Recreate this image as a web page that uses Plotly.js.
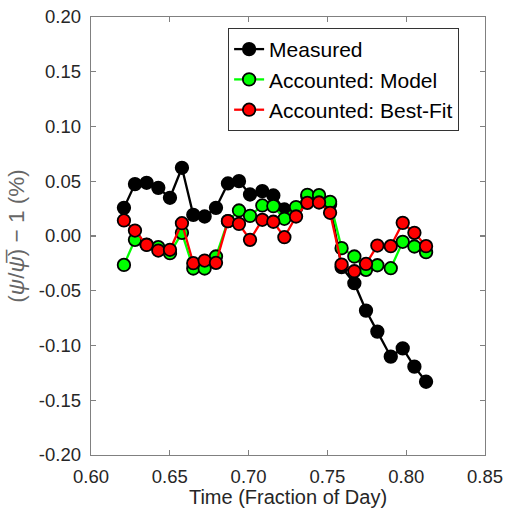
<!DOCTYPE html>
<html>
<head>
<meta charset="utf-8">
<script src="https://cdn.plot.ly/plotly-3.0.1.min.js"></script>
<style>html,body{margin:0;padding:0;background:#fff;}#chart{width:509px;height:517px;}</style>
</head>
<body>
<div id="chart"></div>
<script>
const time = [0.6209,0.6279,0.6353,0.6427,0.6501,0.6577,0.6649,0.6721,0.6793,0.6869,0.6939,0.7009,0.7087,0.7157,0.7227,0.7301,0.7373,0.7447,0.7517,0.7590,0.7671,0.7745,0.7817,0.7902,0.7978,0.8052,0.8126];
const measured = [0.0257,0.0474,0.0486,0.0440,0.0349,0.0623,0.0193,0.0178,0.0257,0.0480,0.0501,0.0379,0.0410,0.0370,0.0242,0.0255,0.0360,0.0360,0.0290,-0.0284,-0.0431,-0.0681,-0.0873,-0.1102,-0.1026,-0.1193,-0.1331];
const model = [-0.0264,-0.0035,-0.0078,-0.0102,-0.0157,0.0029,-0.0297,-0.0297,-0.0187,0.0136,0.0233,0.0184,0.0279,0.0273,0.0157,0.0264,0.0376,0.0373,0.0312,-0.0111,-0.0187,-0.0309,-0.0267,-0.0294,-0.0053,-0.0096,-0.0148];
const bestFit = [0.0142,0.0050,-0.0081,-0.0133,-0.0126,0.0117,-0.0248,-0.0224,-0.0245,0.0136,0.0111,-0.0035,0.0148,0.0130,-0.0011,0.0178,0.0303,0.0306,0.0212,-0.0261,-0.0322,-0.0255,-0.0087,-0.0093,0.0120,0.0029,-0.0093];
const xTicks = [0.60,0.65,0.70,0.75,0.80,0.85];
const xTickText = ["0.60","0.65","0.70","0.75","0.80","0.85"];
const yTicks = [-0.20,-0.15,-0.10,-0.05,0.00,0.05,0.10,0.15,0.20];
const yTickText = ["-0.20","-0.15","-0.10","-0.05","0.00","0.05","0.10","0.15","0.20"];
const names = ["Measured","Accounted: Model","Accounted: Best-Fit"];

function tr(y, name, lineColor, fillColor){
  return {x: time, y: y, name: name, type: 'scatter', mode: 'lines+markers',
    line: {color: lineColor, width: 2.3},
    marker: {size: 12.5, color: fillColor, line: {color: '#000', width: 1.8}}};
}
const data = [
  tr(measured, names[0], '#000000', '#000000'),
  tr(model, names[1], '#00ff00', '#00ff00'),
  tr(bestFit, names[2], '#ff0000', '#ff0000')
];
const axisCommon = {showgrid: false, zeroline: false, showline: true, linecolor: '#808080', linewidth: 1.3,
  mirror: 'ticks', ticks: 'inside', ticklen: 5, tickcolor: '#808080', tickwidth: 1.3,
  tickfont: {family: 'Liberation Sans, Arial, sans-serif', size: 18.5, color: '#262626'}};
const layout = {
  width: 509, height: 517,
  margin: {l: 91, r: 24, t: 17, b: 62},
  paper_bgcolor: '#fff', plot_bgcolor: '#fff',
  showlegend: true,
  xaxis: Object.assign({}, axisCommon, {range: [0.60, 0.85], tickmode: 'array', tickvals: xTicks, ticktext: xTickText,
    ticklabelstandoff: 4,
    title: {text: 'Time (Fraction of Day)', font: {family: 'Liberation Sans, Arial, sans-serif', size: 20, color: '#262626'}, standoff: 3}}),
  yaxis: Object.assign({}, axisCommon, {range: [-0.20, 0.20], tickmode: 'array', tickvals: yTicks, ticktext: yTickText,
    ticklabelstandoff: 5,
    title: {text: '(<i>ψ</i>/<i>ψ̅</i>) − 1 (%)', font: {family: 'Liberation Sans, Arial, sans-serif', size: 22.5, color: '#666666'}, standoff: 8}}),
  legend: {x: 0.348, y: 0.975, xanchor: 'left', yanchor: 'top', bgcolor: '#fff', bordercolor: '#333', borderwidth: 1,
    font: {family: 'Liberation Sans, Arial, sans-serif', size: 21, color: '#000'}, tracegroupgap: 0}
};
Plotly.newPlot('chart', data, layout, {displayModeBar: false, staticPlot: true});
</script>
</body>
</html>
